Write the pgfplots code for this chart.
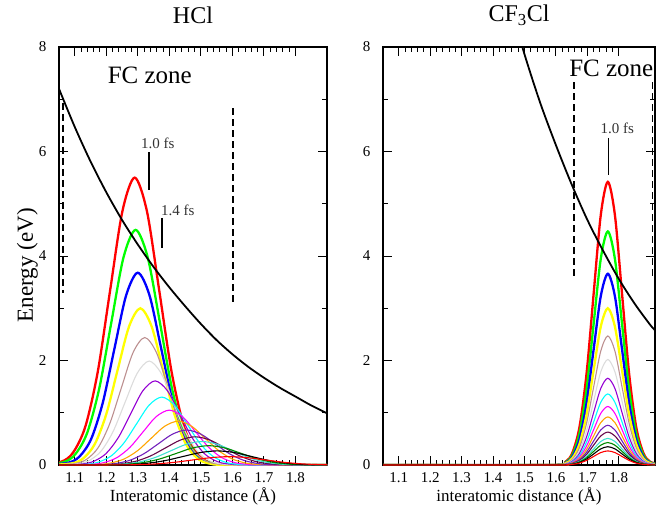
\documentclass[border=0pt]{standalone}
\usepackage{fontspec}
\setmainfont{Liberation Serif}
\usepackage{pgfplots}
\pgfplotsset{compat=1.18}
\usepackage{pgfplotstable}

\definecolor{gred}{RGB}{255,0,0}
\definecolor{ggreen}{RGB}{0,255,0}
\definecolor{gblue}{RGB}{0,0,255}
\definecolor{gyellow}{RGB}{255,255,0}
\definecolor{gbrown}{RGB}{188,143,143}
\definecolor{ggrey}{RGB}{220,220,220}
\definecolor{gviolet}{RGB}{148,0,211}
\definecolor{gcyan}{RGB}{0,255,255}
\definecolor{gmagenta}{RGB}{255,0,255}
\definecolor{gorange}{RGB}{255,165,0}
\definecolor{gindigo}{RGB}{114,33,188}
\definecolor{gmaroon}{RGB}{103,7,72}
\definecolor{gturq}{RGB}{64,224,208}
\definecolor{ggreenf}{RGB}{0,139,0}

% right panel wave packets (CF3Cl)
\pgfplotstableread{
x      a     b     c     d     e     f     g     h     i     j     k     l     m     n     o     p
1.000  0     0     0     0     0     0     0     0     0     0     0     0     0     0     0     0
1.585  0     0     0     0     0     0     0     0     0     0     0     0     0     0     0     0
1.630  0.060 0.050 0.041 0.033 0.027 0.022 0.018 0.015 0.012 0.010 0.008 0.007 0.006 0.005 0.004 0.003
1.6525 0.238 0.196 0.161 0.132 0.108 0.089 0.073 0.060 0.049 0.040 0.033 0.028 0.022 0.019 0.015 0.012
1.675  0.733 0.605 0.495 0.406 0.334 0.273 0.225 0.184 0.152 0.124 0.103 0.085 0.069 0.058 0.047 0.037
1.6975 1.760 1.451 1.188 0.974 0.802 0.656 0.539 0.442 0.364 0.299 0.247 0.205 0.166 0.140 0.114 0.088
1.720  3.287 2.711 2.220 1.820 1.498 1.225 1.007 0.825 0.679 0.558 0.461 0.382 0.309 0.261 0.212 0.164
1.7425 4.783 3.945 3.230 2.648 2.180 1.783 1.465 1.200 0.988 0.812 0.671 0.556 0.450 0.379 0.309 0.238
1.765  5.420 4.470 3.660 3.000 2.470 2.020 1.660 1.360 1.120 0.920 0.760 0.630 0.510 0.430 0.350 0.270
1.7875 4.783 3.945 3.230 2.648 2.180 1.783 1.465 1.200 0.988 0.812 0.671 0.556 0.450 0.379 0.309 0.238
1.810  3.287 2.711 2.220 1.820 1.498 1.225 1.007 0.825 0.679 0.558 0.461 0.382 0.309 0.261 0.212 0.164
1.8325 1.760 1.451 1.188 0.974 0.802 0.656 0.539 0.442 0.364 0.299 0.247 0.205 0.166 0.140 0.114 0.088
1.855  0.733 0.605 0.495 0.406 0.334 0.273 0.225 0.184 0.152 0.124 0.103 0.085 0.069 0.058 0.047 0.037
1.8775 0.238 0.196 0.161 0.132 0.108 0.089 0.073 0.060 0.049 0.040 0.033 0.028 0.022 0.019 0.015 0.012
1.900  0.060 0.050 0.041 0.033 0.027 0.022 0.018 0.015 0.012 0.010 0.008 0.007 0.006 0.005 0.004 0.003
1.945  0     0     0     0     0     0     0     0     0     0     0     0     0     0     0     0
}\cfpackets

\pgfplotsset{
  grace/.style={
    scale only axis, width=268pt, height=418pt,
    xmin=1.05, xmax=1.9, ymin=0, ymax=8,
    xtick={1.1,1.2,1.3,1.4,1.5,1.6,1.7,1.8},
    minor x tick num=4,
    ytick={0,2,4,6,8}, minor y tick num=1,
    tick align=inside,
    major tick length=9pt, minor tick length=5pt,
    axis line style={line width=1.3pt},
    every tick/.style={black, line width=1pt},
    tick label style={font=\fontsize{15}{15}\selectfont},
    /pgf/number format/assume math mode=true,
    xticklabel style={/pgf/number format/fixed, /pgf/number format/precision=1, yshift=-4pt},
    yticklabel style={xshift=-9pt},
    title style={at={(0.5,1.062)}, anchor=center, font=\fontsize{24}{24}\selectfont},
    xlabel style={at={(axis description cs:0.5,-0.076)}, anchor=center, font=\fontsize{17}{17}\selectfont},
    ylabel style={at={(axis description cs:-0.118,0.478)}, anchor=center, font=\fontsize{23}{23}\selectfont},
    clip=true,
  },
  thk/.style={line width=2.3pt, smooth},
  thn/.style={line width=1.1pt, smooth},
}

\begin{document}
\begin{tikzpicture}
\useasboundingbox (0,0) rectangle (661pt,509pt);
% ---------------- HCl ----------------
\begin{axis}[grace, at={(59pt,44pt)}, anchor=south west,
  title={HCl}, xlabel={Interatomic distance (Å)}, ylabel={Energy (eV)}]
\addplot[gred,thk] coordinates {(0.978,0) (1.056,0.061) (1.095,0.241) (1.134,0.744) (1.173,1.786) (1.212,3.336) (1.251,4.854) (1.29,5.5) (1.329,4.854) (1.368,3.336) (1.407,1.786) (1.446,0.744) (1.485,0.241) (1.524,0.061) (1.602,0) (2.0,0)};
\addplot[ggreen,thk] coordinates {(0.985,0) (1.062,0.050) (1.1005,0.198) (1.139,0.609) (1.1775,1.461) (1.216,2.729) (1.2545,3.971) (1.293,4.5) (1.3315,3.971) (1.370,2.729) (1.4085,1.461) (1.447,0.609) (1.4855,0.198) (1.524,0.050) (1.601,0) (2.0,0)};
\addplot[gblue,thk] coordinates {(1.004,0) (1.078,0.041) (1.115,0.162) (1.152,0.498) (1.189,1.195) (1.226,2.232) (1.263,3.248) (1.300,3.68) (1.337,3.248) (1.374,2.232) (1.411,1.195) (1.448,0.498) (1.485,0.162) (1.522,0.041) (1.596,0) (2.0,0)};
\addplot[gyellow,thk] coordinates {(1.020,0) (1.092,0.033) (1.128,0.132) (1.164,0.406) (1.200,0.974) (1.236,1.820) (1.272,2.648) (1.308,3.0) (1.344,2.648) (1.380,1.820) (1.416,0.974) (1.452,0.406) (1.488,0.132) (1.524,0.033) (1.596,0) (2.0,0)};
\addplot[gbrown,thn] coordinates {(1.0,0) (1.026,0) (1.100,0.027) (1.137,0.107) (1.174,0.330) (1.211,0.792) (1.248,1.480) (1.285,2.153) (1.322,2.44) (1.359,2.153) (1.396,1.480) (1.433,0.792) (1.470,0.330) (1.507,0.107) (1.544,0.027) (1.618,0) (2.0,0)};
\addplot[ggrey,thn] coordinates {(1.0,0) (1.032,0) (1.108,0.022) (1.146,0.087) (1.184,0.269) (1.222,0.646) (1.260,1.207) (1.298,1.756) (1.336,1.99) (1.374,1.756) (1.412,1.207) (1.450,0.646) (1.488,0.269) (1.526,0.087) (1.564,0.022) (1.640,0) (2.0,0)};
\addplot[gviolet,thn] coordinates {(1.0,0) (1.043,0) (1.121,0.018) (1.160,0.071) (1.199,0.218) (1.238,0.523) (1.277,0.976) (1.316,1.421) (1.355,1.61) (1.394,1.421) (1.433,0.976) (1.472,0.523) (1.511,0.218) (1.550,0.071) (1.589,0.018) (1.667,0) (2.0,0)};
\addplot[gcyan,thn] coordinates {(1.0,0) (1.056,0) (1.136,0.014) (1.176,0.057) (1.216,0.176) (1.256,0.422) (1.296,0.788) (1.336,1.147) (1.376,1.30) (1.416,1.147) (1.456,0.788) (1.496,0.422) (1.536,0.176) (1.576,0.057) (1.616,0.014) (1.696,0) (2.0,0)};
\addplot[gmagenta,thn] coordinates {(1.0,0) (1.068,0) (1.151,0.012) (1.1925,0.046) (1.234,0.142) (1.2755,0.341) (1.317,0.637) (1.3585,0.927) (1.400,1.05) (1.4415,0.927) (1.483,0.637) (1.5245,0.341) (1.566,0.142) (1.6075,0.046) (1.649,0.012) (1.732,0) (2.0,0)};
\addplot[gorange,thn] coordinates {(1.0,0) (1.084,0) (1.170,0.009) (1.213,0.037) (1.256,0.114) (1.299,0.273) (1.342,0.509) (1.385,0.741) (1.428,0.84) (1.471,0.741) (1.514,0.509) (1.557,0.273) (1.600,0.114) (1.643,0.037) (1.686,0.009) (1.772,0) (2.0,0)};
\addplot[gindigo,thn] coordinates {(1.0,0) (1.095,0) (1.185,0.007) (1.230,0.029) (1.275,0.091) (1.320,0.218) (1.365,0.406) (1.410,0.591) (1.455,0.67) (1.500,0.591) (1.545,0.406) (1.590,0.218) (1.635,0.091) (1.680,0.029) (1.725,0.007) (1.815,0) (2.0,0)};
\addplot[gmaroon,thn] coordinates {(1.0,0) (1.106,0) (1.200,0.006) (1.247,0.024) (1.294,0.073) (1.341,0.175) (1.388,0.328) (1.435,0.477) (1.482,0.54) (1.529,0.477) (1.576,0.328) (1.623,0.175) (1.670,0.073) (1.717,0.024) (1.764,0.006) (1.858,0) (2.0,0)};
\addplot[gturq,thn] coordinates {(1.0,0) (1.111,0) (1.209,0.005) (1.258,0.020) (1.307,0.061) (1.356,0.146) (1.405,0.273) (1.454,0.397) (1.503,0.45) (1.552,0.397) (1.601,0.273) (1.650,0.146) (1.699,0.061) (1.748,0.020) (1.797,0.005) (1.895,0) (2.0,0)};
\addplot[ggreenf,thn] coordinates {(1.0,0) (1.117,0) (1.219,0.004) (1.270,0.016) (1.321,0.050) (1.372,0.120) (1.423,0.224) (1.474,0.327) (1.525,0.37) (1.576,0.327) (1.627,0.224) (1.678,0.120) (1.729,0.050) (1.780,0.016) (1.831,0.004) (1.933,0)};
\addplot[black,thn] coordinates {(1.0,0) (1.120,0) (1.228,0.003) (1.282,0.012) (1.336,0.037) (1.390,0.088) (1.444,0.164) (1.498,0.238) (1.552,0.27) (1.606,0.238) (1.660,0.164) (1.714,0.088) (1.768,0.037) (1.822,0.012) (1.876,0.003) (1.984,0)};
\addplot[gred,thn] coordinates {(1.0,0) (1.130,0) (1.245,0.002) (1.3025,0.007) (1.360,0.022) (1.4175,0.052) (1.475,0.097) (1.5325,0.141) (1.590,0.16) (1.6475,0.141) (1.705,0.097) (1.7625,0.052) (1.820,0.022) (1.8775,0.007) (1.935,0.002) (2.05,0)};
% potential curve
\addplot[black, line width=1.8pt, smooth] coordinates {(1.05,7.2) (1.10,6.47) (1.15,5.81) (1.20,5.22) (1.25,4.69) (1.30,4.22) (1.35,3.79) (1.40,3.40) (1.45,3.04) (1.50,2.70) (1.55,2.39) (1.60,2.12) (1.65,1.88) (1.70,1.67) (1.75,1.48) (1.80,1.31) (1.85,1.14) (1.90,0.99)};
% FC zone limits
\addplot[black, line width=1.6pt, dash pattern=on 7pt off 4pt] coordinates {(1.063,6.93) (1.063,3.29)};
\addplot[black, line width=1.6pt, dash pattern=on 7pt off 4pt] coordinates {(1.601,6.83) (1.601,3.12)};
% time markers
\addplot[black, line width=1.5pt] coordinates {(1.335,5.99) (1.335,5.26)};
\addplot[black, line width=1.5pt] coordinates {(1.376,4.73) (1.376,4.15)};
\node[font=\fontsize{25}{25}\selectfont] at (axis cs:1.338,7.46) {FC zone};
\node[font=\fontsize{15}{15}\selectfont, text=black!80] at (axis cs:1.363,6.16) {1.0 fs};
\node[font=\fontsize{15}{15}\selectfont, text=black!80] at (axis cs:1.427,4.88) {1.4 fs};
\end{axis}
% ---------------- CF3Cl ----------------
\begin{axis}[grace, at={(383pt,44pt)}, anchor=south west, width=272pt, xmax=1.915,
  title={CF\textsubscript{3}Cl}, xlabel={interatomic distance (Å)}]
\addplot[gred,thk] table[x=x,y=a] {\cfpackets};
\addplot[ggreen,thk] table[x=x,y=b] {\cfpackets};
\addplot[gblue,thk] table[x=x,y=c] {\cfpackets};
\addplot[gyellow,thk] table[x=x,y=d] {\cfpackets};
\addplot[gbrown,thn] table[x=x,y=e] {\cfpackets};
\addplot[ggrey,thn] table[x=x,y=f] {\cfpackets};
\addplot[gviolet,thn] table[x=x,y=g] {\cfpackets};
\addplot[gcyan,thn] table[x=x,y=h] {\cfpackets};
\addplot[gmagenta,thn] table[x=x,y=i] {\cfpackets};
\addplot[gorange,thn] table[x=x,y=j] {\cfpackets};
\addplot[gindigo,thn] table[x=x,y=k] {\cfpackets};
\addplot[gmaroon,thn] table[x=x,y=l] {\cfpackets};
\addplot[gturq,thn] table[x=x,y=m] {\cfpackets};
\addplot[ggreenf,thn] table[x=x,y=n] {\cfpackets};
\addplot[black,thn] table[x=x,y=o] {\cfpackets};
\addplot[gred,thn] table[x=x,y=p] {\cfpackets};
\addplot[black, line width=1.8pt, smooth] coordinates {(1.45,8.9) (1.50,7.86) (1.55,6.93) (1.60,6.12) (1.65,5.37) (1.70,4.69) (1.75,4.10) (1.80,3.56) (1.85,3.09) (1.90,2.68) (1.92,2.55)};
\addplot[black, line width=1.6pt, dash pattern=on 7pt off 4pt] coordinates {(1.657,7.33) (1.657,3.6)};
\addplot[black, line width=1.6pt, dash pattern=on 7pt off 4pt] coordinates {(1.907,7.33) (1.907,3.6)};
\addplot[black, line width=1.5pt] coordinates {(1.767,6.26) (1.767,5.55)};
\node[font=\fontsize{25}{25}\selectfont] at (axis cs:1.776,7.6) {FC zone};
\node[font=\fontsize{15}{15}\selectfont, text=black!80] at (axis cs:1.795,6.45) {1.0 fs};
\end{axis}
\end{tikzpicture}
\end{document}
